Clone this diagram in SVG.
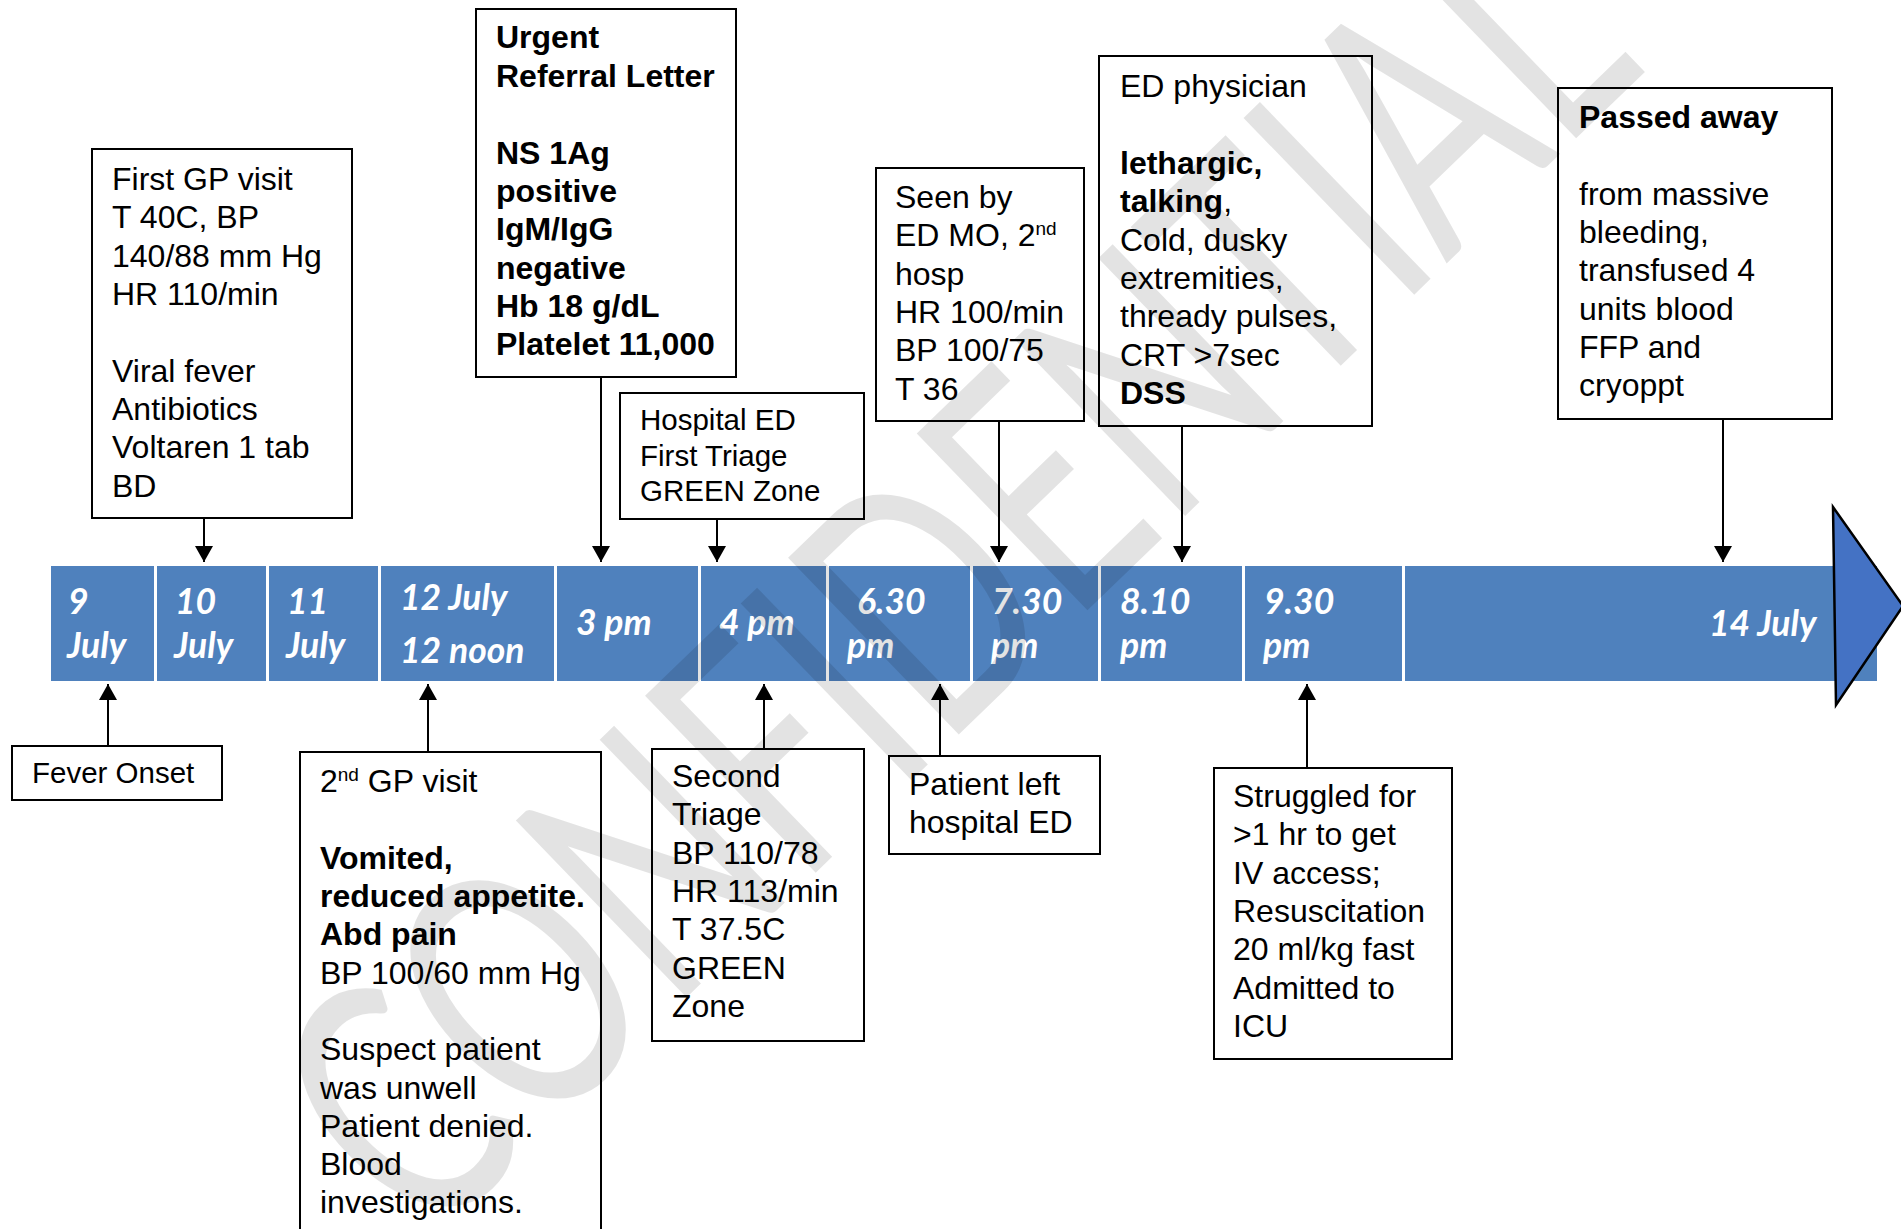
<svg xmlns="http://www.w3.org/2000/svg" width="1901" height="1229" viewBox="0 0 1901 1229">
  <defs>
    <style>
      .box { fill: none; stroke: #000; stroke-width: 2; }
      .t { font-family: "Liberation Sans", Arial, sans-serif; font-size: 32px; fill: #000; }
      .t29 { font-family: "Liberation Sans", Arial, sans-serif; font-size: 29.5px; fill: #000; }
      .b { font-weight: bold; }
      .sup { font-size: 19px; }
      .lbl { font-family: Lato, "Open Sans", sans-serif; font-size: 35.5px; font-weight: bold; font-style: italic; fill: #fff; }
      .conn { stroke: #000; stroke-width: 2; fill: none; }
      .wm { font-family: Lato, "Open Sans", sans-serif; font-size: 245px; fill: #000; fill-opacity: 0.11; }
    </style>
    <marker id="arrow" viewBox="0 0 16 18" refX="16" refY="9" markerWidth="16" markerHeight="18" markerUnits="userSpaceOnUse" orient="auto">
      <path d="M0,0 L16,9 L0,18 Z" fill="#000"/>
    </marker>
  </defs>

  <rect width="1901" height="1229" fill="#fff"/>

  <!-- timeline bar -->
  <g id="timeline">
    <rect x="51" y="566" width="1826" height="115" fill="#4f81bd"/>
    <g fill="#fff">
      <rect x="154" y="566" width="3" height="115"/>
      <rect x="266" y="566" width="3" height="115"/>
      <rect x="378" y="566" width="3" height="115"/>
      <rect x="554" y="566" width="3" height="115"/>
      <rect x="698" y="566" width="3" height="115"/>
      <rect x="826" y="566" width="3" height="115"/>
      <rect x="970" y="566" width="3" height="115"/>
      <rect x="1098" y="566" width="3" height="115"/>
      <rect x="1242" y="566" width="3" height="115"/>
      <rect x="1402" y="566" width="3" height="115"/>
    </g>
    <polygon points="1833,507 1903,606 1836,705" fill="#4472c4" stroke="#000" stroke-width="2.5"/>
    <text class="lbl" x="68" y="614">9</text>
    <text class="lbl" x="67" y="658">July</text>
    <text class="lbl" x="175" y="614">10</text>
    <text class="lbl" x="174" y="658">July</text>
    <text class="lbl" x="287" y="614">11</text>
    <text class="lbl" x="286" y="658">July</text>
    <text class="lbl" x="400" y="610">12 July</text>
    <text class="lbl" x="400" y="663">12 noon</text>
    <text class="lbl" x="576" y="635">3 pm</text>
    <text class="lbl" x="719" y="635">4 pm</text>
    <text class="lbl" x="857" y="614">6.30</text>
    <text class="lbl" x="847" y="658">pm</text>
    <text class="lbl" x="992" y="614">7.30</text>
    <text class="lbl" x="991" y="658">pm</text>
    <text class="lbl" x="1120" y="614">8.10</text>
    <text class="lbl" x="1120" y="658">pm</text>
    <text class="lbl" x="1264" y="614">9.30</text>
    <text class="lbl" x="1263" y="658">pm</text>
    <text class="lbl" x="1709" y="636">14 July</text>
  </g>

  <!-- connectors -->
  <g id="connectors" class="conn" marker-end="url(#arrow)">
    <line x1="108" y1="746" x2="108" y2="684"/>
    <line x1="204" y1="518" x2="204" y2="562"/>
    <line x1="428" y1="752" x2="428" y2="684"/>
    <line x1="601" y1="377" x2="601" y2="562"/>
    <line x1="717" y1="519" x2="717" y2="562"/>
    <line x1="764" y1="749" x2="764" y2="684"/>
    <line x1="940" y1="756" x2="940" y2="684"/>
    <line x1="999" y1="421" x2="999" y2="562"/>
    <line x1="1182" y1="426" x2="1182" y2="562"/>
    <line x1="1307" y1="768" x2="1307" y2="684"/>
    <line x1="1723" y1="419" x2="1723" y2="562"/>
  </g>

  <!-- event boxes -->
  <g id="fever-onset">
    <rect class="box" x="12" y="746" width="210" height="54"/>
    <text class="t29" x="32" y="783">Fever Onset</text>
  </g>

  <g id="first-gp-visit">
    <rect class="box" x="92" y="149" width="260" height="369"/>
    <text class="t" x="112">
      <tspan x="112" y="190">First GP visit</tspan>
      <tspan x="112" y="228.3">T 40C, BP</tspan>
      <tspan x="112" y="266.6">140/88 mm Hg</tspan>
      <tspan x="112" y="305">HR 110/min</tspan>
      <tspan x="112" y="381.5">Viral fever</tspan>
      <tspan x="112" y="420">Antibiotics</tspan>
      <tspan x="112" y="458">Voltaren 1 tab</tspan>
      <tspan x="112" y="496.5">BD</tspan>
    </text>
  </g>

  <g id="second-gp-visit">
    <rect class="box" x="300" y="752" width="301" height="500"/>
    <text class="t" x="320">
      <tspan x="320" y="792">2</tspan><tspan class="sup" dy="-11">nd</tspan><tspan dy="11"> GP visit</tspan>
      <tspan class="b" x="320" y="868.6">Vomited,</tspan>
      <tspan class="b" x="320" y="907">reduced appetite.</tspan>
      <tspan class="b" x="320" y="945">Abd pain</tspan>
      <tspan x="320" y="983.5">BP 100/60 mm Hg</tspan>
      <tspan x="320" y="1060">Suspect patient</tspan>
      <tspan x="320" y="1098.5">was unwell</tspan>
      <tspan x="320" y="1137">Patient denied.</tspan>
      <tspan x="320" y="1175">Blood</tspan>
      <tspan x="320" y="1213">investigations.</tspan>
    </text>
  </g>

  <g id="referral-letter">
    <rect class="box" x="476" y="9" width="260" height="368"/>
    <text class="t b" x="496">
      <tspan x="496" y="48">Urgent</tspan>
      <tspan x="496" y="86.5">Referral Letter</tspan>
      <tspan x="496" y="163.5">NS 1Ag</tspan>
      <tspan x="496" y="202">positive</tspan>
      <tspan x="496" y="240">IgM/IgG</tspan>
      <tspan x="496" y="278.5">negative</tspan>
      <tspan x="496" y="317">Hb 18 g/dL</tspan>
      <tspan x="496" y="355">Platelet 11,000</tspan>
    </text>
  </g>

  <g id="first-triage">
    <rect class="box" x="620" y="393" width="244" height="126"/>
    <text class="t29" x="640">
      <tspan x="640" y="430">Hospital ED</tspan>
      <tspan x="640" y="465.5">First Triage</tspan>
      <tspan x="640" y="501">GREEN Zone</tspan>
    </text>
  </g>

  <g id="second-triage">
    <rect class="box" x="652" y="749" width="212" height="292"/>
    <text class="t" x="672">
      <tspan x="672" y="787">Second</tspan>
      <tspan x="672" y="825.3">Triage</tspan>
      <tspan x="672" y="863.6">BP 110/78</tspan>
      <tspan x="672" y="902">HR 113/min</tspan>
      <tspan x="672" y="940">T 37.5C</tspan>
      <tspan x="672" y="978.6">GREEN</tspan>
      <tspan x="672" y="1017">Zone</tspan>
    </text>
  </g>

  <g id="patient-left">
    <rect class="box" x="889" y="756" width="211" height="98"/>
    <text class="t" x="909">
      <tspan x="909" y="795">Patient left</tspan>
      <tspan x="909" y="833">hospital ED</tspan>
    </text>
  </g>

  <g id="seen-by-mo">
    <rect class="box" x="876" y="168" width="208" height="253"/>
    <text class="t" x="895">
      <tspan x="895" y="208">Seen by</tspan>
      <tspan x="895" y="246.3">ED MO, 2</tspan><tspan class="sup" dy="-11">nd</tspan>
      <tspan x="895" y="284.6">hosp</tspan>
      <tspan x="895" y="323">HR 100/min</tspan>
      <tspan x="895" y="361">BP 100/75</tspan>
      <tspan x="895" y="399.6">T 36</tspan>
    </text>
  </g>

  <g id="ed-physician">
    <rect class="box" x="1099" y="56" width="273" height="370"/>
    <text class="t" x="1120">
      <tspan x="1120" y="97">ED physician</tspan>
      <tspan class="b" x="1120" y="174">lethargic,</tspan>
      <tspan class="b" x="1120" y="212">talking</tspan><tspan>,</tspan>
      <tspan x="1120" y="250.5">Cold, dusky</tspan>
      <tspan x="1120" y="289">extremities,</tspan>
      <tspan x="1120" y="327">thready pulses,</tspan>
      <tspan x="1120" y="365.5">CRT &gt;7sec</tspan>
      <tspan class="b" x="1120" y="404">DSS</tspan>
    </text>
  </g>

  <g id="resuscitation">
    <rect class="box" x="1214" y="768" width="238" height="291"/>
    <text class="t" x="1233">
      <tspan x="1233" y="807">Struggled for</tspan>
      <tspan x="1233" y="845.3">&gt;1 hr to get</tspan>
      <tspan x="1233" y="883.6">IV access;</tspan>
      <tspan x="1233" y="922">Resuscitation</tspan>
      <tspan x="1233" y="960">20 ml/kg fast</tspan>
      <tspan x="1233" y="998.6">Admitted to</tspan>
      <tspan x="1233" y="1037">ICU</tspan>
    </text>
  </g>

  <g id="passed-away">
    <rect class="box" x="1558" y="88" width="274" height="331"/>
    <text class="t" x="1579">
      <tspan class="b" x="1579" y="128">Passed away</tspan>
      <tspan x="1579" y="204.6">from massive</tspan>
      <tspan x="1579" y="243">bleeding,</tspan>
      <tspan x="1579" y="281">transfused 4</tspan>
      <tspan x="1579" y="319.6">units blood</tspan>
      <tspan x="1579" y="358">FFP and</tspan>
      <tspan x="1579" y="396">cryoppt</tspan>
    </text>
  </g>

  <!-- diagonal watermark -->
  <text class="wm" transform="translate(425,1250) rotate(-44) scale(0.96,1.4)">CONFIDENTIAL</text>
</svg>
